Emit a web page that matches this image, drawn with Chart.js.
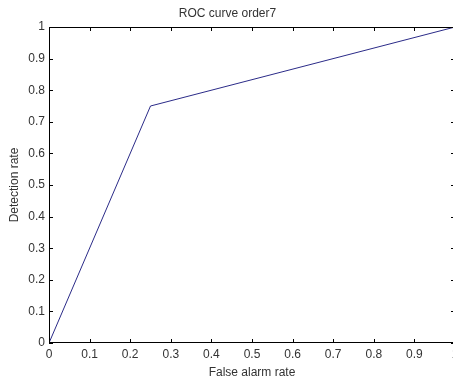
<!DOCTYPE html>
<html lang="en">
<head>
    <meta charset="UTF-8">
    <title>ROC curve order7</title>
    <style>
        html, body { margin: 0; padding: 0; background: #fff; overflow: hidden; }
        .container { width: 453px; height: 380px; overflow: hidden; }
    </style>
</head>
<body>
    <div class="container">
        <canvas id="rocChart" width="465" height="380"></canvas>
    </div>
    <script src="https://cdn.jsdelivr.net/npm/chart.js"></script>
    <script>
        // ROC points: false alarm rate vs detection rate
        const falseAlarm = [0, 0.25, 1];
        const detection = [0, 0.75, 1];
        const tickValues = [0, 0.1, 0.2, 0.3, 0.4, 0.5, 0.6, 0.7, 0.8, 0.9, 1];

        const points = falseAlarm.map((x, i) => ({ x: x, y: detection[i] }));
        const textColor = '#333';
        const font = { family: 'Arial, "Liberation Sans", sans-serif', size: 12, weight: 'normal' };

        // matlab style box with ticks pointing inwards on every side
        const axisBox = {
            id: 'axisBox',
            afterDraw(chart) {
                const { ctx, chartArea: a, scales } = chart;
                const len = 4;
                ctx.save();
                ctx.strokeStyle = '#000';
                ctx.lineWidth = 1;
                ctx.beginPath();
                ctx.rect(a.left + 0.5, a.top + 0.5, a.right - a.left - 1, a.bottom - a.top - 1);
                tickValues.forEach(v => {
                    const px = Math.round(scales.x.getPixelForValue(v)) + 0.5;
                    ctx.moveTo(px, a.bottom); ctx.lineTo(px, a.bottom - len);
                    ctx.moveTo(px, a.top); ctx.lineTo(px, a.top + len);
                    const py = Math.round(scales.y.getPixelForValue(v)) + 0.5;
                    ctx.moveTo(a.left, py); ctx.lineTo(a.left + len, py);
                    ctx.moveTo(a.right, py); ctx.lineTo(a.right - len, py);
                });
                ctx.stroke();
                ctx.restore();
            }
        };

        new Chart(document.getElementById('rocChart').getContext('2d'), {
            type: 'scatter',
            data: {
                datasets: [{
                    data: points,
                    showLine: true,
                    borderColor: '#2b2b88',
                    borderWidth: 1,
                    pointRadius: 0,
                    fill: false,
                    tension: 0
                }]
            },
            plugins: [axisBox],
            options: {
                responsive: false,
                animation: false,
                devicePixelRatio: 1,
                layout: { padding: { left: 0, right: 10, top: 0, bottom: 0 } },
                plugins: {
                    legend: { display: false },
                    tooltip: { enabled: false },
                    title: {
                        display: true,
                        text: 'ROC curve order7',
                        color: textColor,
                        font: font,
                        padding: { top: 6, bottom: 6.6 }
                    }
                },
                scales: {
                    x: {
                        type: 'linear',
                        min: 0,
                        max: 1,
                        afterBuildTicks: s => { s.ticks = tickValues.map(v => ({ value: v })); },
                        afterFit: s => { s.height = 37; },
                        grid: { display: false, drawTicks: false },
                        border: { display: false },
                        ticks: { color: textColor, font: font, padding: 4, maxRotation: 0,
                                 callback: v => String(Math.round(v * 10) / 10) },
                        title: { display: true, text: 'False alarm rate', color: textColor, font: font, padding: { top: 3, bottom: 0 } }
                    },
                    y: {
                        type: 'linear',
                        min: 0,
                        max: 1,
                        afterBuildTicks: s => { s.ticks = tickValues.map(v => ({ value: v })); },
                        afterFit: s => { s.width = 49; },
                        grid: { display: false, drawTicks: false },
                        border: { display: false },
                        ticks: { color: textColor, font: font, padding: 4,
                                 callback: v => String(Math.round(v * 10) / 10) },
                        title: { display: true, text: 'Detection rate', color: textColor, font: font, padding: { top: 7, bottom: 0 } }
                    }
                }
            }
        });
    </script>
</body>
</html>
